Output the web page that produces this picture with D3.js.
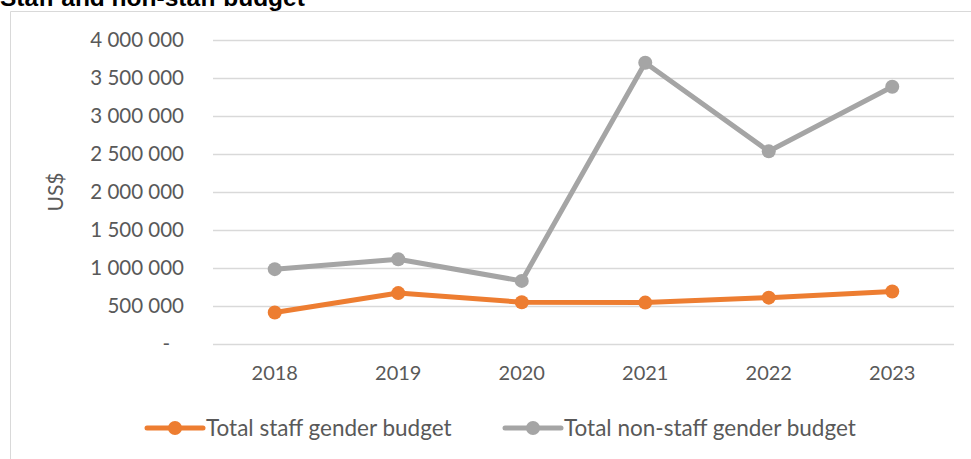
<!DOCTYPE html>
<html>
<head>
<meta charset="utf-8">
<script src="https://cdn.jsdelivr.net/npm/d3@7"></script>
<style>
  body { margin: 0; background: #fff; }
  svg { display: block; }
  .tick text { font-family: Lato, "Open Sans", sans-serif; fill: #595959; }
</style>
</head>
<body>
<svg id="chart"></svg>
<script>
// data
const years = ['2018', '2019', '2020', '2021', '2022', '2023'];
const staffBudget = [415000, 670000, 550000, 545000, 610000, 690000];
const nonStaffBudget = [985000, 1115000, 830000, 3700000, 2535000, 3385000];
const seriesNames = ['Total staff gender budget', 'Total non-staff gender budget'];
const seriesColors = ['#ED7D31', '#A5A5A5'];
const yTicks = [0, 500000, 1000000, 1500000, 2000000, 2500000, 3000000, 3500000, 4000000];

const width = 971, height = 459;
const margin = { top: 40, bottom: 115, left: 213, right: 17 };

const svg = d3.select('#chart')
    .attr('width', width)
    .attr('height', height);

// chart frame (only left and top edges show in the crop)
svg.append('path')
    .attr('d', `M10.5,${height} V11.5 H${width}`)
    .attr('fill', 'none')
    .attr('stroke', '#D9D9D9')
    .attr('stroke-width', 1);

// title, mostly cut off at the top
svg.append('text')
    .attr('x', 0)
    .attr('y', 6)
    .attr('font-family', '"Liberation Sans", Arial, sans-serif')
    .attr('font-weight', 'bold')
    .attr('font-size', 24.5)
    .attr('fill', '#000')
    .text('Staff and non-staff budget');

const innerW = width - margin.left - margin.right;
const innerH = height - margin.top - margin.bottom;

const chart = svg.append('g')
    .attr('transform', `translate(${margin.left},${margin.top})`);

const xScale = d3.scaleBand()
    .domain(years)
    .range([0, innerW]);

const yScale = d3.scaleLinear()
    .domain([0, 4000000])
    .range([innerH, 0]);

const fmt = v => v === 0 ? '-' : d3.format(',')(v).replace(/,/g, ' ');

// y axis with gridlines
const yAxisG = chart.append('g')
    .call(d3.axisLeft(yScale).tickValues(yTicks).tickSize(-innerW).tickPadding(29).tickFormat(fmt));
yAxisG.select('.domain').remove();
yAxisG.selectAll('.tick line').attr('stroke', '#D9D9D9').attr('stroke-width', 1.5);
yAxisG.selectAll('.tick text').attr('font-size', 20.5);
yAxisG.selectAll('.tick text').filter(d => d === 0).attr('dx', -14);

// x axis
const xAxisG = chart.append('g')
    .attr('transform', `translate(0,${innerH})`)
    .call(d3.axisBottom(xScale).tickSize(0).tickPadding(22));
xAxisG.select('.domain').remove();
xAxisG.selectAll('.tick text').attr('font-size', 20);

// axis title
svg.append('text')
    .attr('transform', `translate(63,192) rotate(-90)`)
    .attr('text-anchor', 'middle')
    .attr('font-family', 'Lato, "Open Sans", sans-serif')
    .attr('font-size', 21)
    .attr('fill', '#595959')
    .text('US$');

const series = [staffBudget, nonStaffBudget];

const line = d3.line()
    .x((d, i) => xScale(years[i]) + xScale.bandwidth() / 2)
    .y(d => yScale(d));

[1, 0].forEach(k => {
    chart.append('path')
        .datum(series[k])
        .attr('fill', 'none')
        .attr('stroke', seriesColors[k])
        .attr('stroke-width', 5)
        .attr('stroke-linejoin', 'round')
        .attr('d', line);

    chart.selectAll('.pt' + k)
        .data(series[k])
        .join('circle')
        .attr('cx', (d, i) => xScale(years[i]) + xScale.bandwidth() / 2)
        .attr('cy', d => yScale(d))
        .attr('r', 7)
        .attr('fill', seriesColors[k]);
});

// legend
const legendX = [147, 505];
const legendY = 428;
const legend = svg.append('g');
seriesNames.forEach((name, k) => {
    const g = legend.append('g').attr('transform', `translate(${legendX[k]},${legendY})`);
    g.append('line')
        .attr('x1', 0).attr('x2', 56)
        .attr('stroke', seriesColors[k])
        .attr('stroke-width', 5)
        .attr('stroke-linecap', 'round');
    g.append('circle')
        .attr('cx', 28)
        .attr('r', 7)
        .attr('fill', seriesColors[k]);
    g.append('text')
        .attr('x', 59)
        .attr('dy', '0.35em')
        .attr('font-family', 'Lato, "Open Sans", sans-serif')
        .attr('font-size', 22.5)
        .attr('fill', '#595959')
        .text(name);
});
</script>
</body>
</html>
